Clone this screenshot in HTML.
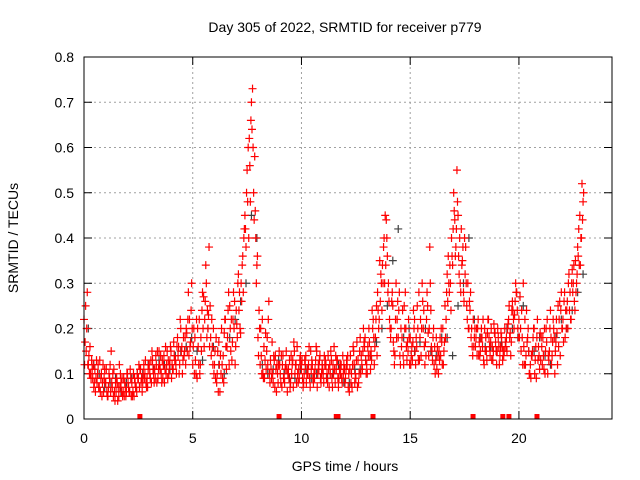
<!DOCTYPE html>
<html><head><meta charset="utf-8"><style>
body{margin:0;background:#fff;}
svg{display:block;font-family:"Liberation Sans",sans-serif;}
</style></head><body>
<svg id="chart" width="640" height="480" viewBox="0 0 640 480">
<text x="345" y="32" font-size="14" text-anchor="middle">Day 305 of 2022, SRMTID for receiver p779</text>
<text transform="translate(18,238) rotate(-90)" font-size="14" text-anchor="middle">SRMTID / TECUs</text>
<text x="345" y="471" font-size="14" text-anchor="middle">GPS time / hours</text>
<g id="grid"></g>
<g id="axes"></g>
<g id="marks"></g>
<rect x="84" y="57" width="528" height="362" fill="none" stroke="#000" stroke-width="1"/>
</svg>
<script>
const xTicks=[0,5,10,15,20];
const yTicks=[0,0.1,0.2,0.3,0.4,0.5,0.6,0.7,0.8];
const yTickLabels=["0","0.1","0.2","0.3","0.4","0.5","0.6","0.7","0.8"];
const seriesA=[.22,.15,.12,.10,.09,.11,.08,.07,.10,.06,
.08,.05,.12,.07,.06,.09,.05,.08,.06,.07,
.10,.06,.08,.05,.07,.09,.11,.08,.10,.09,
.12,.08,.10,.14,.09,.11,.13,.08,.12,.10,
.15,.11,.13,.18,.12,.16,.14,.20,.28,.17,
.12,.18,.09,.22,.15,.27,.34,.20,.25,.16,
.12,.08,.17,.10,.14,.22,.18,.25,.13,.20,
.24,.32,.19,.36,.45,.55,.62,.70,.50,.40,
.18,.12,.22,.09,.15,.26,.11,.08,.14,.10,
.12,.07,.09,.15,.11,.08,.13,.10,.16,.09,
.11,.08,.14,.10,.07,.12,.09,.15,.11,.08,
.10,.13,.08,.12,.09,.16,.11,.07,.10,.14,
.08,.12,.06,.10,.15,.09,.13,.18,.11,.16,
.12,.20,.15,.22,.18,.28,.35,.24,.40,.44,
.30,.18,.25,.14,.22,.28,.16,.12,.20,.15,
.18,.13,.22,.16,.28,.14,.20,.17,.25,.38,
.15,.12,.18,.10,.14,.20,.25,.32,.28,.40,
.50,.38,.45,.30,.35,.40,.25,.20,.18,.22,
.16,.20,.14,.18,.12,.15,.22,.17,.13,.19,
.15,.12,.18,.14,.16,.21,.19,.26,.23,.28,
.22,.15,.30,.12,.18,.10,.14,.20,.09,.16,
.13,.18,.10,.22,.15,.12,.20,.17,.25,.14,
.20,.28,.24,.32,.22,.30,.35,.38,.45,.52];
const seriesB=[.17,.28,.10,.13,.07,.09,.12,.06,.08,.11,
.06,.10,.15,.05,.08,.04,.07,.09,.05,.06,
.07,.09,.06,.08,.10,.07,.09,.12,.08,.11,
.09,.13,.11,.08,.15,.10,.12,.16,.09,.13,
.12,.14,.10,.16,.20,.13,.18,.15,.22,.30,
.20,.10,.16,.12,.28,.22,.18,.38,.14,.20,
.09,.15,.06,.12,.19,.11,.28,.15,.22,.12,
.18,.28,.26,.40,.38,.60,.48,.73,.58,.34,
.24,.14,.09,.19,.12,.08,.17,.13,.06,.12,
.08,.14,.11,.06,.13,.10,.17,.12,.08,.14,
.09,.13,.10,.16,.11,.08,.13,.10,.14,.12,
.14,.09,.11,.15,.12,.08,.13,.11,.09,.12,
.11,.07,.14,.12,.08,.17,.10,.14,.20,.13,
.16,.14,.24,.12,.25,.20,.32,.30,.45,.36,
.22,.26,.15,.30,.18,.12,.24,.20,.13,.18,
.14,.24,.12,.20,.18,.30,.16,.22,.14,.24,
.18,.10,.16,.13,.17,.15,.22,.36,.30,.34,
.44,.55,.32,.42,.28,.38,.30,.24,.16,.18,
.20,.14,.18,.22,.15,.19,.16,.13,.21,.15,
.18,.16,.13,.20,.15,.25,.17,.22,.30,.20,
.27,.18,.12,.24,.15,.09,.18,.13,.22,.11,
.16,.11,.20,.14,.24,.17,.10,.19,.22,.28,
.17,.24,.20,.28,.33,.26,.30,.42,.40,.48];
const seriesC=[.12,.20,.14,.09,.12,.06,.10,.13,.05,.09,
.11,.07,.06,.10,.04,.08,.12,.06,.09,.05,
.08,.11,.05,.09,.06,.12,.08,.10,.13,.07,
.10,.15,.08,.12,.11,.14,.09,.11,.15,.12,
.09,.17,.12,.14,.22,.10,.15,.19,.14,.24,
.16,.13,.20,.10,.24,.16,.30,.23,.18,.12,
.15,.10,.12,.20,.08,.16,.24,.20,.17,.26,
.21,.24,.30,.28,.42,.48,.56,.64,.44,.30,
.14,.20,.10,.13,.18,.10,.09,.14,.11,.08,
.10,.12,.08,.11,.09,.14,.07,.12,.10,.13,
.13,.10,.08,.12,.15,.09,.11,.07,.13,.10,
.08,.12,.14,.10,.07,.11,.13,.09,.12,.10,
.09,.14,.11,.07,.12,.13,.08,.10,.15,.18,
.10,.17,.13,.18,.22,.24,.26,.34,.30,.40,
.26,.20,.17,.22,.26,.14,.18,.25,.16,.22,
.12,.17,.15,.25,.13,.20,.24,.14,.19,.30,
.13,.16,.11,.15,.20,.12,.18,.26,.34,.36,
.46,.42,.36,.28,.38,.32,.22,.26,.20,.16,
.18,.22,.15,.16,.20,.13,.18,.20,.15,.17,
.20,.14,.16,.15,.18,.22,.14,.24,.26,.24,
.18,.24,.16,.14,.20,.12,.15,.10,.18,.14,
.18,.14,.15,.10,.20,.14,.18,.22,.16,.24,
.22,.18,.26,.24,.30,.34,.28,.36,.34,.44];
const seriesD=[.25,.12,.16,.11,.08,.13,.07,.09,.12,.08,
.05,.09,.08,.11,.06,.07,.10,.05,.08,.10,
.06,.05,.10,.07,.09,.11,.06,.09,.07,.12,
.13,.11,.09,.15,.12,.08,.14,.10,.13,.16,
.11,.13,.16,.10,.15,.18,.12,.22,.16,.20,
.10,.22,.12,.18,.20,.26,.24,.16,.22,.10,
.18,.06,.14,.09,.22,.16,.12,.22,.28,.16,
.30,.20,.34,.42,.50,.40,.66,.60,.46,.36,
.20,.10,.16,.11,.22,.13,.10,.07,.12,.15,
.14,.09,.12,.10,.07,.12,.15,.08,.11,.12,
.07,.12,.11,.09,.13,.10,.16,.12,.09,.11,
.12,.10,.07,.13,.10,.14,.09,.12,.08,.11,
.13,.10,.08,.16,.10,.07,.15,.12,.17,.10,
.14,.11,.20,.16,.14,.22,.30,.38,.34,.28,
.20,.28,.12,.18,.24,.20,.14,.28,.17,.12,
.16,.20,.18,.13,.22,.26,.12,.28,.20,.16,
.20,.13,.14,.18,.12,.17,.28,.30,.24,.42,
.36,.48,.40,.34,.26,.30,.20,.28,.14,.20,
.14,.17,.20,.13,.18,.22,.14,.16,.19,.12,
.16,.19,.15,.17,.20,.18,.24,.20,.28,.18,
.20,.12,.22,.17,.10,.14,.20,.16,.13,.19,
.12,.20,.17,.13,.18,.22,.15,.12,.26,.20,
.26,.20,.30,.22,.28,.24,.32,.34,.40,.50];
const seriesGray=[.20,.10,.08,.06,.09,.10,.11,.12,.14,.16,
.15,.20,.12,.18,.26,.45,.12,.11,.10,.09,
.11,.10,.09,.12,.08,.11,.14,.20,.35,.18,
.15,.20,.14,.18,.25,.40,.18,.16,.17,.20,
.25,.15,.14,.18,.20,.28];
const seriesGray2=[.12,.07,.09,.08,.10,.12,.13,.11,.15,.18,
.13,.16,.10,.22,.30,.40,.10,.13,.09,.11,
.09,.12,.10,.08,.11,.13,.17,.25,.42,.20,
.17,.15,.18,.14,.30,.22,.16,.15,.20,.18,
.15,.18,.12,.22,.24,.32];
const gapTimes=[2.57,8.97,11.6,11.68,13.29,17.89,19.26,19.54,20.83];
const X0=84,X1=612,XMAX=24.28,Y0=419,Y1=57,YMAX=0.8;
function xs(t){return X0+(X1-X0)*t/XMAX;}
function ys(v){return Y0-(Y0-Y1)*v/YMAX;}
const NS="http://www.w3.org/2000/svg";
const grid=document.getElementById('grid'),axes=document.getElementById('axes'),marks=document.getElementById('marks');
function mk(tag,attrs,parent){const e=document.createElementNS(NS,tag);for(const k in attrs)e.setAttribute(k,attrs[k]);parent.appendChild(e);return e;}
yTicks.forEach((v,i)=>{const y=ys(v);
 if(i>0&&i<yTicks.length-1){const g=mk('line',{x1:X0,x2:X1,y1:y,y2:y,stroke:'#a0a0a0','stroke-dasharray':'2,3','stroke-width':1},grid);
 
 }
 const t1=mk('line',{x1:X0,x2:X0+8,y1:y,y2:y,stroke:'#000'},axes);
 
 
 mk('line',{x1:X1-8,x2:X1,y1:y,y2:y,stroke:'#000'},axes);
 const tl=mk('text',{x:X0-10,y:y+5,'font-size':14,'text-anchor':'end'},axes);tl.textContent=yTickLabels[i];
 
 
});
xTicks.forEach(v=>{const x=xs(v);
 if(v>0){const g=mk('line',{x1:x,x2:x,y1:Y0,y2:Y1,stroke:'#a0a0a0','stroke-dasharray':'2,3','stroke-width':1},grid);
 
 }
 const t1=mk('line',{x1:x,x2:x,y1:Y0,y2:Y0-8,stroke:'#000'},axes);
 
 
 mk('line',{x1:x,x2:x,y1:Y1,y2:Y1+8,stroke:'#000'},axes);
 const tl=mk('text',{x:x,y:Y0+24,'font-size':14,'text-anchor':'middle'},axes);tl.textContent=String(v);
 
 
});
function cross(t,v,color){const x=xs(t),y=ys(v);
 const p=mk('path',{d:`M${x-4} ${y}H${x+4}M${x} ${y-4}V${y+4}`,stroke:color,'stroke-width':1.2,fill:'none'},marks);
 
 }
seriesGray.forEach((v,i)=>cross(i*0.5+0.2,v,'#404040'));
seriesGray2.forEach((v,i)=>cross(i*0.5+0.45,v,'#404040'));
seriesA.forEach((v,i)=>cross(i*0.1,v,'#ff0000'));
seriesB.forEach((v,i)=>cross(i*0.1+0.05,v,'#ff0000'));
seriesC.forEach((v,i)=>cross(i*0.1+0.025,v,'#ff0000'));
seriesD.forEach((v,i)=>cross(i*0.1+0.075,v,'#ff0000'));
gapTimes.forEach(t=>{const r=mk('rect',{x:xs(t)-2.5,y:Y0-5,width:5,height:5,fill:'#ff0000'},marks);
 
 });
</script>
</body></html>
